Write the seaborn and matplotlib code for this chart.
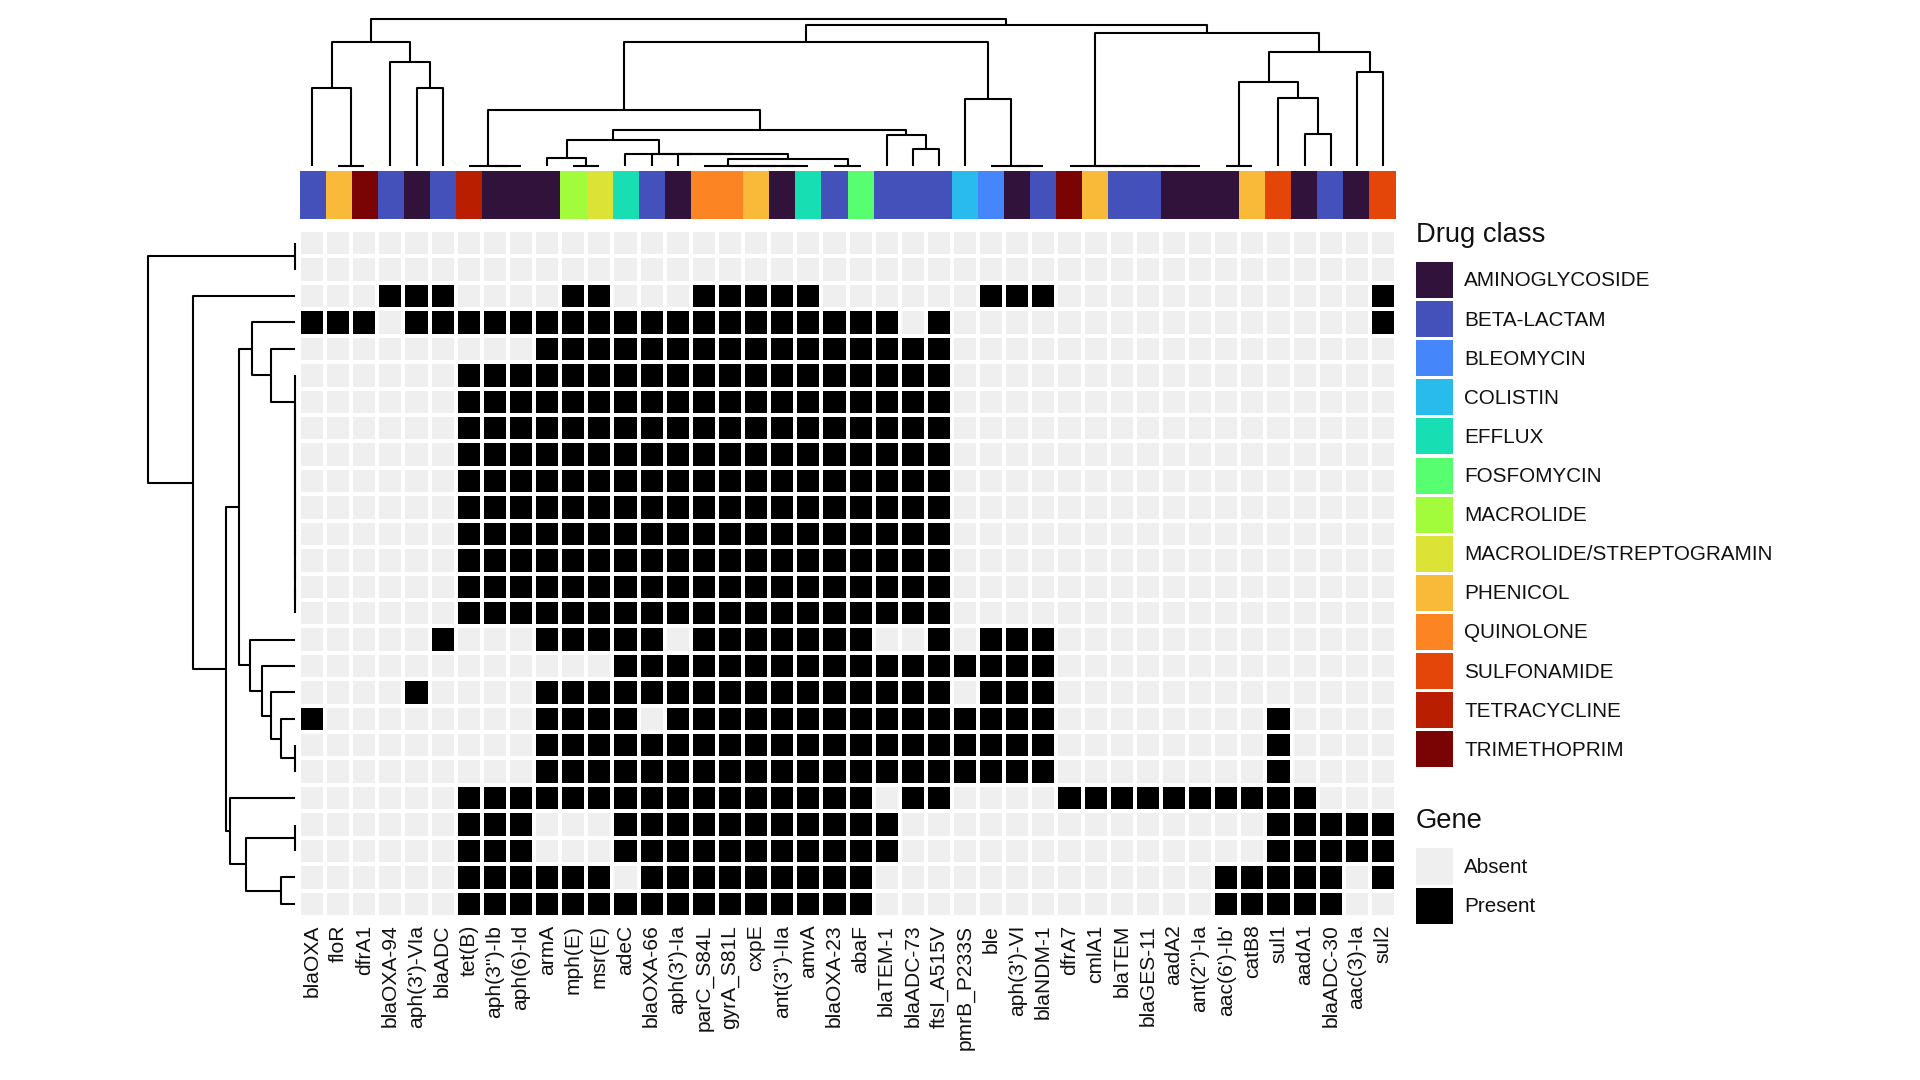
import numpy as np
import pandas as pd
import matplotlib
matplotlib.use("Agg")
import matplotlib.pyplot as plt
import seaborn as sns
from matplotlib.colors import ListedColormap
from matplotlib.patches import Patch

# gene names, left to right
genes = ["blaOXA", "floR", "dfrA1", "blaOXA-94", "aph(3')-VIa", "blaADC", "tet(B)",
         "aph(3'')-Ib", "aph(6)-Id", "armA", "mph(E)", "msr(E)", "adeC", "blaOXA-66",
         "aph(3')-Ia", "parC_S84L", "gyrA_S81L", "cxpE", "ant(3'')-IIa", "amvA",
         "blaOXA-23", "abaF", "blaTEM-1", "blaADC-73", "ftsI_A515V", "pmrB_P233S",
         "ble", "aph(3')-VI", "blaNDM-1", "dfrA7", "cmlA1", "blaTEM", "blaGES-11",
         "aadA2", "ant(2'')-Ia", "aac(6')-Ib'", "catB8", "sul1", "aadA1", "blaADC-30",
         "aac(3)-Ia", "sul2"]

drug_classes = ["AMINOGLYCOSIDE", "BETA-LACTAM", "BLEOMYCIN", "COLISTIN", "EFFLUX",
                "FOSFOMYCIN", "MACROLIDE", "MACROLIDE/STREPTOGRAMIN", "PHENICOL",
                "QUINOLONE", "SULFONAMIDE", "TETRACYCLINE", "TRIMETHOPRIM"]

gene_class = ["BETA-LACTAM", "PHENICOL", "TRIMETHOPRIM", "BETA-LACTAM", "AMINOGLYCOSIDE",
              "BETA-LACTAM", "TETRACYCLINE", "AMINOGLYCOSIDE", "AMINOGLYCOSIDE",
              "AMINOGLYCOSIDE", "MACROLIDE", "MACROLIDE/STREPTOGRAMIN", "EFFLUX",
              "BETA-LACTAM", "AMINOGLYCOSIDE", "QUINOLONE", "QUINOLONE", "PHENICOL",
              "AMINOGLYCOSIDE", "EFFLUX", "BETA-LACTAM", "FOSFOMYCIN", "BETA-LACTAM",
              "BETA-LACTAM", "BETA-LACTAM", "COLISTIN", "BLEOMYCIN", "AMINOGLYCOSIDE",
              "BETA-LACTAM", "TRIMETHOPRIM", "PHENICOL", "BETA-LACTAM", "BETA-LACTAM",
              "AMINOGLYCOSIDE", "AMINOGLYCOSIDE", "AMINOGLYCOSIDE", "PHENICOL",
              "SULFONAMIDE", "AMINOGLYCOSIDE", "BETA-LACTAM", "AMINOGLYCOSIDE", "SULFONAMIDE"]

# which columns (first, last, counted from 1) are present in each of the 26 rows
present_spans = [
    [],
    [],
    [(4, 6), (11, 12), (16, 20), (27, 29), (42, 42)],
    [(1, 3), (5, 23), (25, 25), (42, 42)],
    [(10, 25)],
    [(7, 25)], [(7, 25)], [(7, 25)], [(7, 25)], [(7, 25)],
    [(7, 25)], [(7, 25)], [(7, 25)], [(7, 25)], [(7, 25)],
    [(6, 6), (10, 14), (16, 22), (25, 25), (27, 29)],
    [(13, 29)],
    [(5, 5), (10, 25), (27, 29)],
    [(1, 1), (10, 13), (15, 29), (38, 38)],
    [(10, 29), (38, 38)],
    [(10, 29), (38, 38)],
    [(7, 22), (24, 25), (30, 39)],
    [(7, 9), (13, 23), (38, 42)],
    [(7, 9), (13, 23), (38, 42)],
    [(7, 12), (14, 22), (36, 40), (42, 42)],
    [(7, 22), (36, 40)],
]


def zero_chain(first, last):
    # tied leaves, hclust nests them to the right
    if first == last:
        return first
    return (0, first, zero_chain(first + 1, last))


# dendrograms as nested (height, left, right), leaves are numbered from 1
col_tree = (146.7,
            (123.4,
             (77.4, 1, (0, 2, 3)),
             (103.4, 4, (77.4, 5, 6))),
            (140.7,
             (123.4,
              (55.7,
               zero_chain(7, 9),
               (35.4,
                (25.4,
                 (8.0, 10, (0, 11, 12)),
                 (12.0, 13, (11.7, 14, (11.4, 15, (6.7, zero_chain(16, 20), (0, 21, 22)))))),
                (30.7, 23, (16.7, 24, 25)))),
              (66.7, 26, zero_chain(27, 29))),
             (133.0,
              zero_chain(30, 35),
              (114.0,
               (84.0, (0, 36, 37), (68.0, 38, (31.4, 39, 40))),
               (93.4, 41, 42)))))

row_tree = (146.6,
            (0, 1, 2),
            (101.6,
             3,
             (68.2,
              (55.6,
               (42.9, 4, (23.4, 5, zero_chain(6, 15))),
               (44.8, 16, (32.6, 17, (23.8, 18, (13.4, 19, (0, 20, 21)))))),
              (64.3,
               22,
               (49.0, (0, 23, 24), (13.4, 25, 26))))))

class_colors = ["#30123B", "#4451BB", "#4686FB", "#28BBEC", "#18DEB4", "#56FE70", "#A2FC3C",
                "#DBE436", "#FABA39", "#FC8423", "#E4460A", "#B91E01", "#7A0403"]
absent_color = "#EFEFEF"
present_color = "#000000"

FIG_W, FIG_H = 1920, 1080
LINE_W = 1.5


def px_axes(fig, left, top, right, bottom):
    # axes placed by pixel box, y counted from the top of the image
    return fig.add_axes([left / FIG_W, 1 - bottom / FIG_H,
                         (right - left) / FIG_W, (bottom - top) / FIG_H])


def draw_tree(ax, node, orient):
    # returns (leaf position, height) of the node
    if not isinstance(node, tuple):
        return node - 0.5, 0
    h, left, right = node
    p1, h1 = draw_tree(ax, left, orient)
    p2, h2 = draw_tree(ax, right, orient)
    pos = [p1, p1, p2, p2]
    hts = [h1, h, h, h2]
    if orient == "top":
        ax.plot(pos, hts, color="black", lw=LINE_W, clip_on=False, solid_capstyle="butt")
    else:
        ax.plot(hts, pos, color="black", lw=LINE_W, clip_on=False, solid_capstyle="butt")
    return (p1 + p2) / 2, h


sns.set_theme(style="white")
plt.rcParams["font.family"] = ["Liberation Sans", "DejaVu Sans"]

matrix = np.zeros((len(present_spans), len(genes)), dtype=int)
for i, spans in enumerate(present_spans):
    for first, last in spans:
        matrix[i, first - 1:last] = 1
gene_table = pd.DataFrame(matrix, columns=genes)

class_codes = np.array([[drug_classes.index(c) for c in gene_class]])

fig = plt.figure(figsize=(FIG_W / 100, FIG_H / 100), dpi=100, facecolor="white")

# main grid
ax_main = px_axes(fig, 299, 230, 1396, 917)
sns.heatmap(gene_table, cmap=ListedColormap([absent_color, present_color]), vmin=0, vmax=1,
            linewidths=1.5, linecolor="white", cbar=False, xticklabels=True,
            yticklabels=False, ax=ax_main)
ax_main.tick_params(axis="x", length=0, pad=5.5, labelsize=15.1, labelcolor="#111111", rotation=90)
ax_main.tick_params(axis="y", length=0)

# drug class strip
ax_strip = px_axes(fig, 299.5, 170.7, 1395.5, 219)
sns.heatmap(class_codes, cmap=ListedColormap(class_colors), vmin=-0.5, vmax=12.5,
            cbar=False, xticklabels=False, yticklabels=False, ax=ax_strip)

# dendrograms
ax_top = px_axes(fig, 299, 19, 1396, 165.7)
draw_tree(ax_top, col_tree, "top")
ax_top.set_xlim(0, len(genes))
ax_top.set_ylim(0, col_tree[0])
ax_top.axis("off")

ax_left = px_axes(fig, 148, 230, 294.6, 917)
draw_tree(ax_left, row_tree, "left")
ax_left.set_xlim(row_tree[0], 0)
ax_left.set_ylim(len(present_spans), 0)
ax_left.axis("off")

# legends
legend_opts = dict(loc="upper left", frameon=False, fontsize=14.9, handlelength=1.78,
                   handleheight=2.3, handletextpad=0.54, labelspacing=0.15,
                   borderpad=0, borderaxespad=0, labelcolor="#111111")

fig.text(1416 / FIG_W, 1 - 235.5 / FIG_H, "Drug class", fontsize=19.7, va="center", ha="left", color="#111111")
fig.legend(handles=[Patch(facecolor=c, edgecolor="none", label=n) for c, n in zip(class_colors, drug_classes)],
           bbox_to_anchor=(1416 / FIG_W, 1 - 262 / FIG_H), **legend_opts)

fig.text(1416 / FIG_W, 1 - 821.5 / FIG_H, "Gene", fontsize=19.7, va="center", ha="left", color="#111111")
fig.legend(handles=[Patch(facecolor=absent_color, edgecolor="none", label="Absent"),
                    Patch(facecolor=present_color, edgecolor="none", label="Present")],
           bbox_to_anchor=(1416 / FIG_W, 1 - 848.5 / FIG_H), **legend_opts)

fig.savefig("out.png", dpi=100, facecolor="white")
